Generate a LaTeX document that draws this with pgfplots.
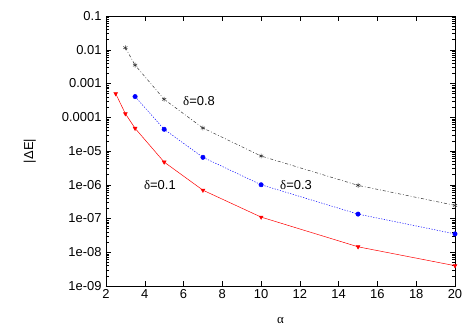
\documentclass[border=0pt]{standalone}
\usepackage{fontspec}
\setmainfont{Liberation Sans}
\newfontfamily\symf{Liberation Serif}
\usepackage{pgfplots}
\pgfplotsset{compat=1.18}

\begin{document}
\begin{tikzpicture}
\useasboundingbox (-106bp,-42bp) rectangle (363bp,286bp);
\begin{axis}[at={(0,0)},anchor=south west,scale only axis,
 width=349bp,height=270bp,
 ymode=log,xmin=2,xmax=20,ymin=1e-9,ymax=0.1,
 xtick={2,4,...,20},
 ytick={1e-9,1e-8,1e-7,1e-6,1e-5,1e-4,1e-3,1e-2,1e-1},
 yticklabels={1e-09,1e-08,1e-07,1e-06,1e-05,0.0001,0.001,0.01,0.1},
 tick align=inside,major tick length=5bp,minor tick length=3bp,
 tick style={black,line width=0.5bp},
 axis line style={line width=0.6bp},
 font=\fontsize{13}{15}\selectfont,
 /pgf/number format/assume math mode=true,
 xlabel={\symf α},ylabel={|ΔE|},
 xlabel style={at={(axis description cs:0.5,-0.126)},anchor=center},
 ylabel style={at={(axis description cs:-0.218,0.5)},anchor=center,rotate=0},
 yticklabel style={xshift=-1bp},
 clip=false]
% delta = 0.8
\addplot[black!80,line width=0.5bp,dash pattern=on 3bp off 2bp on 0.8bp off 2bp,
 mark=asterisk,mark size=2.4bp,mark options={solid,line width=0.5bp}]
 coordinates {(3,0.0115) (3.5,0.0035) (5,3.4e-4) (7,4.8e-5) (10,7.1e-6) (15,9.6e-7) (20,2.45e-7)};
% delta = 0.3
\addplot[blue,line width=0.5bp,dash pattern=on 1.2bp off 1.5bp,
 mark=*,mark size=2.2bp,mark options={solid,fill=blue}]
 coordinates {(3.5,4.1e-4) (5,4.4e-5) (7,6.5e-6) (10,1.0e-6) (15,1.35e-7) (20,3.5e-8)};
% delta = 0.1
\addplot[red,line width=0.5bp,
 mark=triangle*,mark size=2.2bp,mark options={solid,fill=red,rotate=180}]
 coordinates {(2.5,5e-4) (3,1.27e-4) (3.5,4.7e-5) (5,4.7e-6) (7,6.9e-7) (10,1.1e-7) (15,1.45e-8) (20,4.0e-9)};
\node at (axis cs:6.8,3.0e-4) {{\symf δ}=0.8};
\node at (axis cs:11.8,9.8e-7) {{\symf δ}=0.3};
\node at (axis cs:4.78,9.8e-7) {{\symf δ}=0.1};
\end{axis}
\end{tikzpicture}
\end{document}
